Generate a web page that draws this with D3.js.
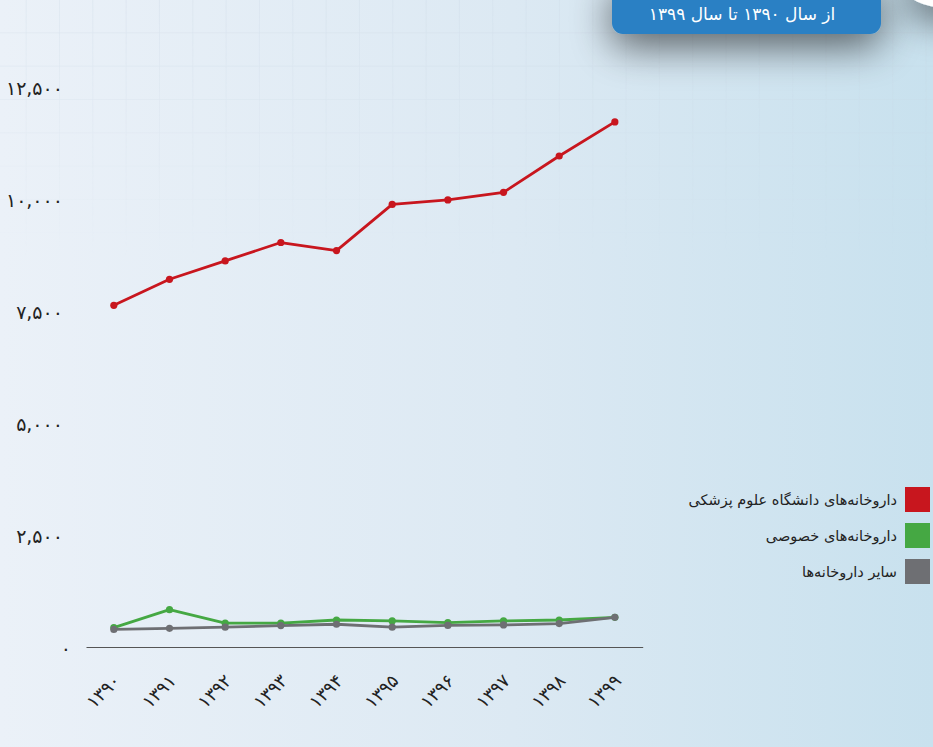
<!DOCTYPE html>
<html><head><meta charset="utf-8">
<script src="https://cdn.jsdelivr.net/npm/d3@7"></script>
<style>
html,body{margin:0;padding:0;overflow:hidden;}
svg{display:block;}
text{font-family:"DejaVu Sans",sans-serif;}
</style></head>
<body>
<svg id="c" width="933" height="747"></svg>
<script>
// ---- data ----
const years = ["1390","1391","1392","1393","1394","1395","1396","1397","1398","1399"];
const univValues = [7660, 8240, 8650, 9060, 8880, 9910, 10010, 10180, 10990, 11750];
const privateValues = [470, 870, 570, 570, 640, 620, 580, 620, 640, 700];
const otherValues = [430, 455, 480, 515, 545, 480, 520, 530, 560, 700];
const yTicks = [0, 2500, 5000, 7500, 10000, 12500];
const seriesNames = ["داروخانه‌های دانشگاه علوم پزشکی", "داروخانه‌های خصوصی", "سایر داروخانه‌ها"];
const seriesColors = ["#c8161e", "#45a843", "#6e6f73"];
const subtitle = "از سال ۱۳۹۰ تا سال ۱۳۹۹";

const faDigits = "۰۱۲۳۴۵۶۷۸۹";
const toFa = s => String(s).replace(/[0-9]/g, d => faDigits[+d]);

const svg = d3.select("#c");
const W = 933, H = 747;
const defs = svg.append("defs");

// background gradient
const bg = defs.append("linearGradient").attr("id","bg").attr("x1",0).attr("x2",1).attr("y1",0).attr("y2",0);
bg.append("stop").attr("offset","0%").attr("stop-color","#ebf1f8");
bg.append("stop").attr("offset","55%").attr("stop-color","#dce9f3");
bg.append("stop").attr("offset","100%").attr("stop-color","#c8e1ee");
svg.append("rect").attr("width",W).attr("height",H).attr("fill","url(#bg)");

// faint grid pattern
const pat = defs.append("pattern").attr("id","grid").attr("width",33.33).attr("height",33.33)
  .attr("patternUnits","userSpaceOnUse").attr("x",-6.7).attr("y",0);
pat.append("path").attr("d","M33.33 0 V33.33 M0 33.33 H33.33").attr("stroke","#c9d6e3").attr("stroke-width",1).attr("fill","none");
const mg = defs.append("linearGradient").attr("id","fadeG").attr("x1",0).attr("x2",0).attr("y1",0).attr("y2",1);
mg.append("stop").attr("offset","0%").attr("stop-color","#fff").attr("stop-opacity",0.55);
mg.append("stop").attr("offset","100%").attr("stop-color","#fff").attr("stop-opacity",0);
defs.append("mask").attr("id","fade").append("rect").attr("x",0).attr("y",0).attr("width",W).attr("height",260).attr("fill","url(#fadeG)");
svg.append("rect").attr("width",W).attr("height",260).attr("fill","url(#grid)").attr("mask","url(#fade)");

// shadow filter
const f = defs.append("filter").attr("id","sh").attr("x","-60%").attr("y","-150%").attr("width","220%").attr("height","450%");
f.append("feGaussianBlur").attr("in","SourceAlpha").attr("stdDeviation",20);
f.append("feOffset").attr("dy",12).attr("result","b");
f.append("feComponentTransfer").append("feFuncA").attr("type","linear").attr("slope",0.6);
const fm = f.append("feMerge"); fm.append("feMergeNode"); fm.append("feMergeNode").attr("in","SourceGraphic");

// top-right decorations
svg.append("ellipse").attr("cx",948).attr("cy",-14).attr("rx",44).attr("ry",22).attr("fill","#ffffff").attr("filter","url(#sh)");
svg.append("rect").attr("x",612).attr("y",-20).attr("width",269).attr("height",54).attr("rx",11)
  .attr("fill","#2a80c4").attr("filter","url(#sh)");
svg.append("text").attr("x",742).attr("y",20).attr("text-anchor","middle")
  .attr("fill","#ffffff").attr("font-size",17).text(subtitle);

// scales
const x = d3.scalePoint().domain(years).range([86, 642.7]).padding(0.5);
const y = d3.scaleLinear().domain([0, 12500]).range([648.7, 88.3]);

// x axis
const xAxis = svg.append("g").attr("transform","translate(0,647)")
  .call(d3.axisBottom(x).tickSize(0).tickFormat(toFa));
xAxis.select(".domain").attr("stroke","#555").attr("stroke-width",1.2);
xAxis.selectAll("text").attr("font-size",18).attr("fill","#222")
  .attr("text-anchor","end").attr("dy",0).attr("y",0)
  .attr("transform", "translate(7,35) rotate(-45)");

// y axis
const yAxis = svg.append("g").attr("transform","translate(71,0)")
  .call(d3.axisLeft(y).tickValues(yTicks).tickSize(0).tickPadding(0)
    .tickFormat(d => toFa(d3.format(",")(d))));
yAxis.select(".domain").remove();
yAxis.selectAll("text").attr("font-size",19).attr("fill","#222")
  .attr("dx", d => d === 0 ? 0 : -8);

// lines
const series = [univValues, privateValues, otherValues];
const line = d3.line().x((d,i) => x(years[i])).y(d => y(d));
series.forEach((vals, si) => {
  const g = svg.append("g");
  g.append("path").datum(vals).attr("d", line).attr("fill","none")
    .attr("stroke", seriesColors[si]).attr("stroke-width",2.8).attr("stroke-linejoin","round");
  g.selectAll("circle").data(vals).join("circle")
    .attr("cx",(d,i) => x(years[i])).attr("cy", d => y(d)).attr("r",3.6)
    .attr("fill", seriesColors[si]);
});

// legend
const lg = svg.append("g");
seriesNames.forEach((n, i) => {
  const yy = 487 + i * 36;
  lg.append("rect").attr("x",905).attr("y",yy).attr("width",25).attr("height",25).attr("fill",seriesColors[i]);
  lg.append("text").attr("x",897).attr("y",yy + 12.5).attr("dy","0.35em").attr("text-anchor","end")
    .attr("font-size",14.5).attr("fill","#222").text(n);
});
</script>
</body></html>
